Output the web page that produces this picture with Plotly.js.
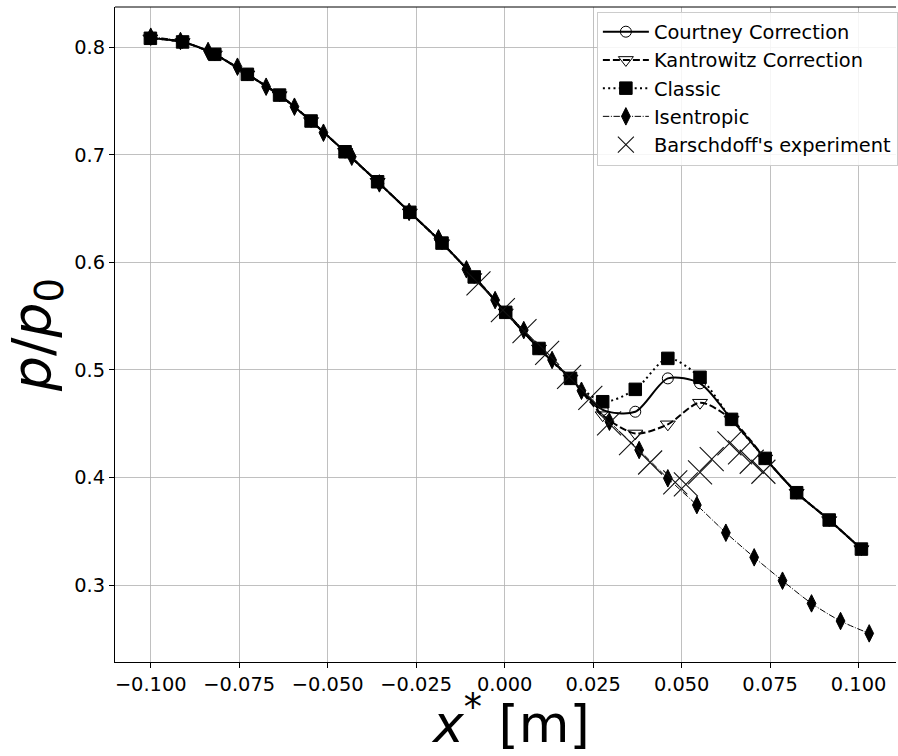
<!DOCTYPE html>
<html>
<head>
<meta charset="utf-8">
<script src="https://cdn.plot.ly/plotly-3.0.1.min.js"></script>
<style>html,body{margin:0;padding:0;background:#fff;}#chart{width:898px;height:756px;}</style>
</head>
<body>
<div id="chart"></div>
<script>
// shared x positions for the three corrected models
const xModel = [-0.1001, -0.0910, -0.0819, -0.0727, -0.0636, -0.0547, -0.0451, -0.0359, -0.0268, -0.0177, -0.0086, 0.0003, 0.0097, 0.0186, 0.0277, 0.0369, 0.0461, 0.0552, 0.0641, 0.0736, 0.0825, 0.0917, 0.1008];
const yClassic = [0.8084, 0.8050, 0.7935, 0.7749, 0.7556, 0.7315, 0.7029, 0.6750, 0.6466, 0.6180, 0.5865, 0.5536, 0.5200, 0.4922, 0.4705, 0.4820, 0.5108, 0.4932, 0.4541, 0.4178, 0.3859, 0.3605, 0.3335];
const yCourtney = [0.8084, 0.8050, 0.7935, 0.7749, 0.7556, 0.7315, 0.7029, 0.6750, 0.6466, 0.6180, 0.5865, 0.5536, 0.5200, 0.4922, 0.4630, 0.4612, 0.4922, 0.4876, 0.4541, 0.4178, 0.3859, 0.3605, 0.3335];
const yKantrowitz = [0.8084, 0.8050, 0.7935, 0.7749, 0.7556, 0.7315, 0.7029, 0.6750, 0.6466, 0.6180, 0.5865, 0.5536, 0.5200, 0.4922, 0.4580, 0.4410, 0.4495, 0.4696, 0.4540, 0.4178, 0.3859, 0.3605, 0.3335];

const xIsen = [-0.1000, -0.0916, -0.0838, -0.0755, -0.0674, -0.0594, -0.0512, -0.0432, -0.0354, -0.0270, -0.0187, -0.0108, -0.0027, 0.0054, 0.0134, 0.0217, 0.0296, 0.0380, 0.0461, 0.0543, 0.0625, 0.0705, 0.0785, 0.0867, 0.0949, 0.1030];
const yIsen = [0.8099, 0.8059, 0.7966, 0.7820, 0.7634, 0.7448, 0.7206, 0.6983, 0.6735, 0.6470, 0.6224, 0.5936, 0.5650, 0.5371, 0.5093, 0.4807, 0.4519, 0.4256, 0.3993, 0.3744, 0.3487, 0.3258, 0.3041, 0.2830, 0.2666, 0.2551];

const xExp = [-0.0074, -0.0005, 0.0056, 0.0120, 0.0182, 0.0242, 0.0295, 0.0357, 0.0411, 0.0482, 0.0512, 0.0552, 0.0585, 0.0635, 0.0665, 0.0698, 0.0731];
const yExp = [0.5806, 0.5557, 0.5362, 0.5160, 0.4937, 0.4740, 0.4504, 0.4320, 0.4140, 0.3955, 0.3936, 0.4048, 0.4172, 0.4318, 0.4234, 0.4147, 0.4054];

const xTicks = [-0.1, -0.075, -0.05, -0.025, 0, 0.025, 0.05, 0.075, 0.1];
const yTicks = [0.3, 0.4, 0.5, 0.6, 0.7, 0.8];

const names = ["Courtney Correction", "Kantrowitz Correction", "Classic", "Isentropic", "Barschdoff's experiment"];
const xTitle = "<i>x</i><sup>*</sup> [m]";
const yTitle = "<i>p</i>/<i>p</i><sub>0</sub>";

const FONT = "DejaVu Sans";
const traces = [
  {x: xModel, y: yCourtney, name: names[0], mode: "lines+markers",
   line: {color: "black", width: 2, shape: "spline", smoothing: 0.8},
   marker: {symbol: "circle-open", size: 11, color: "black", line: {width: 1, color: "black"}}},
  {x: xModel, y: yKantrowitz, name: names[1], mode: "lines+markers",
   line: {color: "black", width: 2, dash: "7px,3px", shape: "spline", smoothing: 0.8},
   marker: {symbol: "triangle-down-open", size: 13, color: "black", line: {width: 1, color: "black"}}},
  {x: xModel, y: yClassic, name: names[2], mode: "lines+markers",
   line: {color: "black", width: 2, dash: "2px,3.3px", shape: "spline", smoothing: 0.8},
   marker: {symbol: "square", size: 12.5, color: "black", line: {width: 1, color: "black"}}},
  {x: xIsen, y: yIsen, name: names[3], mode: "lines+markers",
   line: {color: "black", width: 1, dash: "6.4px,1.6px,1px,1.6px", shape: "spline", smoothing: 0.8},
   marker: {symbol: "diamond-tall", size: 12.5, color: "black", line: {width: 1, color: "black"}}},
  {x: xExp, y: yExp, name: names[4], mode: "markers",
   marker: {symbol: "x-thin-open", size: 24, color: "#111", line: {width: 1.1, color: "#111"}}}
];

const layout = {
  width: 898, height: 756,
  margin: {l: 115, r: 0, t: 7, b: 94},
  paper_bgcolor: "white", plot_bgcolor: "white",
  font: {family: FONT, color: "black", size: 19.4},
  showlegend: true,
  legend: {x: 0.617, xanchor: "left", y: 0.993, yanchor: "top",
           bgcolor: "rgba(255,255,255,0.85)", bordercolor: "#cccccc", borderwidth: 1,
           font: {family: FONT, size: 19.4, color: "black"}, itemwidth: 46},
  xaxis: {range: [-0.1101, 0.11057], tickvals: xTicks, tickformat: ".3f",
          showgrid: true, gridcolor: "#b0b0b0", gridwidth: 0.8, zeroline: false,
          showline: true, linecolor: "black", linewidth: 1,
          ticks: "outside", ticklen: 5, tickwidth: 1, tickcolor: "black",
          tickfont: {family: FONT, size: 19.4, color: "black"},
          automargin: false},
  yaxis: {range: [0.2285, 0.8375], tickvals: yTicks, tickformat: ".1f",
          showgrid: true, gridcolor: "#b0b0b0", gridwidth: 0.8, zeroline: false,
          showline: true, linecolor: "black", linewidth: 1,
          ticks: "outside", ticklen: 5, tickwidth: 1, tickcolor: "black",
          tickfont: {family: FONT, size: 19.4, color: "black"},
          title: {text: yTitle, font: {family: FONT, size: 55, color: "black"}, standoff: 8},
          automargin: false},
  annotations: [{text: xTitle, xref: "paper", yref: "paper", x: 0.507, y: -0.1435,
                 xanchor: "center", yanchor: "bottom", showarrow: false,
                 font: {family: FONT, size: 52, color: "black"}}],
  shapes: [{type: "line", xref: "paper", yref: "paper", x0: 0, x1: 1, y0: 1, y1: 1,
            line: {color: "black", width: 1}}]
};

Plotly.newPlot("chart", traces, layout, {displayModeBar: false, staticPlot: true});
</script>
</body>
</html>
